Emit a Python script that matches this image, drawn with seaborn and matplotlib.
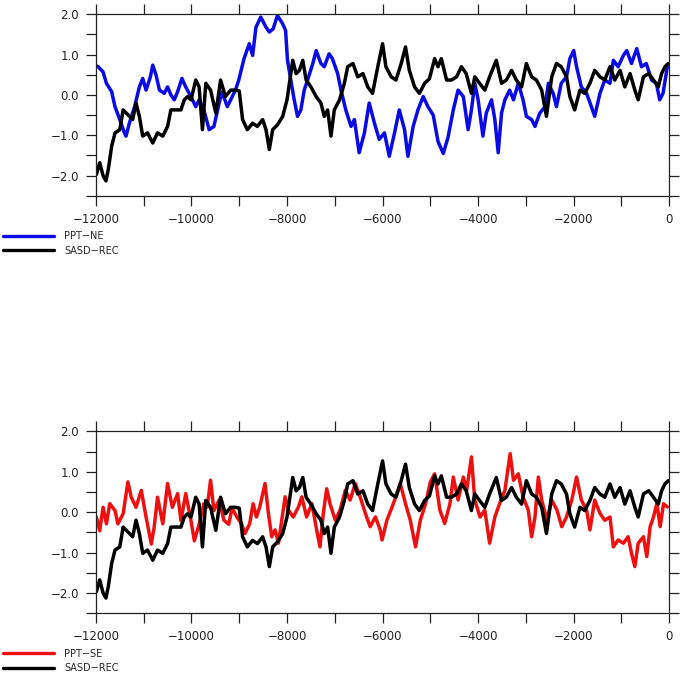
import numpy as np
import pandas as pd
import matplotlib
matplotlib.use("Agg")
import matplotlib.pyplot as plt
import seaborn as sns
from matplotlib.ticker import MultipleLocator

# years BP (negative) and standardised values
ne_years = [-11990, -11950, -11850, -11780, -11670, -11600, -11500, -11400, -11370, -11300,
            -11190, -11090, -11020, -10950, -10860, -10810, -10740, -10670, -10570, -10500,
            -10430, -10360, -10290, -10200, -10120, -10010, -9910, -9840, -9740, -9630,
            -9530, -9420, -9360, -9250, -9180, -9080, -9010, -8900, -8790, -8720,
            -8650, -8550, -8440, -8370, -8290, -8200, -8090, -8030, -7990, -7920,
            -7850, -7780, -7710, -7640, -7570, -7460, -7390, -7290, -7220, -7120,
            -7050, -6940, -6870, -6770, -6660, -6590, -6490, -6380, -6280, -6170,
            -6070, -5960, -5860, -5750, -5650, -5540, -5470, -5360, -5260, -5150,
            -5050, -4940, -4840, -4730, -4630, -4520, -4420, -4310, -4210, -4140,
            -4070, -4000, -3900, -3830, -3720, -3650, -3580, -3510, -3440, -3340,
            -3260, -3160, -3060, -2990, -2880, -2810, -2710, -2600, -2530, -2430,
            -2360, -2260, -2150, -2080, -2000, -1940, -1840, -1730, -1630, -1560,
            -1450, -1350, -1240, -1170, -1070, -960, -890, -790, -680, -580,
            -480, -370, -270, -200, -130, -40]
ppt_ne = [0.72, 0.70, 0.57, 0.29, 0.08, -0.29, -0.61, -0.95, -1.02, -0.70,
          -0.29, 0.20, 0.41, 0.12, 0.45, 0.74, 0.49, 0.12, 0.04, 0.20,
          0.00, -0.12, 0.08, 0.41, 0.20, -0.04, -0.29, -0.12, -0.37, -0.86,
          -0.78, -0.20, 0.08, -0.29, -0.12, 0.12, 0.37, 0.90, 1.27, 0.98,
          1.68, 1.93, 1.68, 1.56, 1.64, 1.97, 1.76, 1.60, 0.86, 0.37,
          -0.12, -0.53, -0.37, 0.12, 0.37, 0.78, 1.10, 0.78, 0.70, 1.02,
          0.90, 0.53, 0.12, -0.37, -0.78, -0.61, -1.43, -0.94, -0.20, -0.70,
          -1.10, -0.94, -1.52, -0.94, -0.37, -0.86, -1.52, -0.78, -0.37, -0.04,
          -0.29, -0.50, -1.15, -1.45, -1.05, -0.37, 0.12, -0.04, -0.86, -0.37,
          0.29, -0.12, -1.02, -0.45, -0.12, -0.61, -1.43, -0.45, -0.12, 0.12,
          -0.12, 0.29, -0.12, -0.53, -0.61, -0.78, -0.45, -0.29, 0.29, 0.04,
          -0.29, 0.29, 0.45, 0.90, 1.10, 0.70, 0.20, 0.04, -0.29, -0.53,
          0.04, 0.37, 0.29, 0.86, 0.70, 0.98, 1.10, 0.78, 1.15, 0.70,
          0.78, 0.37, 0.29, -0.12, 0.04, 0.70]

sasd_years = [-11990, -11920, -11850, -11790, -11740, -11670, -11600, -11500, -11430, -11330,
              -11230, -11160, -11090, -11020, -10920, -10810, -10710, -10600, -10500, -10430,
              -10330, -10220, -10150, -10080, -10010, -9910, -9840, -9770, -9700, -9600,
              -9490, -9390, -9290, -9180, -9080, -9000, -8930, -8830, -8720, -8620,
              -8510, -8440, -8370, -8300, -8200, -8090, -8000, -7950, -7880, -7810,
              -7740, -7670, -7600, -7500, -7390, -7290, -7220, -7150, -7080, -7010,
              -6900, -6800, -6730, -6620, -6520, -6410, -6310, -6210, -6100, -6000,
              -5930, -5820, -5720, -5610, -5520, -5440, -5330, -5230, -5120, -5020,
              -4910, -4840, -4770, -4660, -4560, -4450, -4350, -4250, -4140, -4070,
              -3970, -3860, -3760, -3620, -3510, -3410, -3300, -3200, -3090, -2990,
              -2880, -2780, -2670, -2570, -2460, -2360, -2260, -2150, -2080, -1980,
              -1870, -1770, -1660, -1560, -1450, -1350, -1240, -1140, -1030, -930,
              -820, -720, -650, -540, -430, -330, -230, -160, -90, -20]
sasd_rec = [-1.97, -1.68, -2.00, -2.13, -1.84, -1.27, -0.94, -0.86, -0.37, -0.49,
            -0.61, -0.20, -0.53, -1.02, -0.94, -1.19, -0.94, -1.02, -0.78, -0.37,
            -0.37, -0.37, -0.12, -0.04, -0.12, 0.37, 0.20, -0.86, 0.29, 0.12,
            -0.45, 0.37, -0.04, 0.12, 0.12, 0.10, -0.61, -0.86, -0.70, -0.78,
            -0.61, -0.86, -1.35, -0.86, -0.74, -0.53, -0.12, 0.29, 0.86, 0.53,
            0.61, 0.86, 0.37, 0.20, -0.04, -0.20, -0.53, -0.37, -1.02, -0.37,
            -0.12, 0.29, 0.70, 0.78, 0.45, 0.53, 0.20, 0.04, 0.70, 1.27,
            0.70, 0.45, 0.37, 0.78, 1.19, 0.61, 0.20, 0.04, 0.29, 0.40,
            0.90, 0.70, 0.90, 0.37, 0.37, 0.45, 0.70, 0.53, 0.04, 0.45,
            0.29, 0.12, 0.45, 0.86, 0.29, 0.37, 0.61, 0.37, 0.20, 0.78,
            0.45, 0.37, 0.12, -0.53, 0.45, 0.78, 0.70, 0.45, -0.04, -0.37,
            0.12, 0.04, 0.29, 0.61, 0.45, 0.37, 0.70, 0.37, 0.61, 0.20,
            0.53, 0.12, -0.12, 0.45, 0.53, 0.37, 0.20, 0.53, 0.70, 0.78]

se_years = [-11990, -11920, -11850, -11780, -11710, -11600, -11540, -11430, -11330, -11260,
            -11160, -11050, -10950, -10840, -10780, -10710, -10600, -10500, -10400, -10290,
            -10220, -10120, -10010, -9940, -9840, -9740, -9670, -9600, -9530, -9420,
            -9320, -9220, -9150, -9050, -8950, -8880, -8780, -8710, -8640, -8570,
            -8460, -8390, -8320, -8250, -8180, -8110, -8040, -7970, -7870, -7760,
            -7690, -7590, -7480, -7380, -7310, -7240, -7170, -7100, -6990, -6890,
            -6780, -6680, -6570, -6470, -6360, -6260, -6150, -6050, -6010, -5910,
            -5800, -5700, -5630, -5520, -5420, -5310, -5210, -5100, -5000, -4910,
            -4800, -4700, -4590, -4520, -4420, -4310, -4240, -4140, -4070, -3960,
            -3860, -3760, -3650, -3550, -3440, -3330, -3260, -3160, -3060, -2950,
            -2880, -2810, -2740, -2670, -2560, -2460, -2350, -2250, -2150, -2040,
            -1940, -1840, -1730, -1660, -1560, -1450, -1350, -1240, -1170, -1070,
            -960, -860, -790, -720, -650, -540, -470, -400, -330, -260,
            -190, -120, -40]
ppt_se = [-0.12, -0.46, 0.12, -0.29, 0.21, 0.04, -0.29, -0.04, 0.75, 0.37,
          0.12, 0.54, -0.12, -0.79, -0.37, 0.37, -0.29, 0.71, 0.12, 0.46,
          -0.21, 0.46, -0.21, -0.71, -0.30, 0.21, 0.12, 0.79, 0.04, 0.30,
          -0.20, -0.30, 0.10, -0.12, -0.29, -0.53, -0.28, 0.21, -0.12, 0.13,
          0.71, -0.03, -0.61, -0.44, -0.77, -0.20, 0.38, 0.05, -0.12, 0.13,
          0.38, -0.12, 0.21, -0.44, -0.86, -0.03, 0.58, 0.21, -0.20, 0.05,
          0.54, 0.30, 0.71, 0.38, -0.03, -0.36, -0.12, -0.44, -0.69, -0.20,
          0.13, 0.46, 0.71, 0.21, -0.20, -0.86, -0.20, 0.21, 0.75, 0.95,
          0.05, -0.28, 0.21, 0.87, 0.30, 0.87, 0.54, 1.37, 0.30, -0.12,
          0.05, -0.77, -0.12, 0.21, 0.54, 1.45, 0.79, 0.95, 0.38, 0.05,
          -0.61, -0.12, 0.87, 0.30, -0.20, 0.30, 0.05, -0.36, -0.12, 0.30,
          0.87, 0.30, 0.05, -0.44, 0.30, -0.03, -0.20, -0.12, -0.86, -0.69,
          -0.77, -0.61, -1.02, -1.35, -0.77, -0.61, -1.10, -0.36, -0.12, 0.21,
          -0.36, 0.21, 0.13]

xticks = [-12000, -10000, -8000, -6000, -4000, -2000, 0]
xticklabels = ["\u221212000", "\u221210000", "\u22128000", "\u22126000",
               "\u22124000", "\u22122000", "0"]
yticks = [-2.0, -1.0, 0.0, 1.0, 2.0]
yticklabels = ["\u22122.0", "\u22121.0", "0.0", "1.0", "2.0"]

sns.set_style("ticks")
plt.rcParams['font.family'] = ['DejaVu Sans']

fig = plt.figure(figsize=(6.85, 6.8), dpi=100)
ax1 = fig.add_axes([0.140, 0.712, 0.837, 0.267])
ax2 = fig.add_axes([0.140, 0.0985, 0.837, 0.267])

ne = pd.DataFrame({'year': ne_years, 'value': ppt_ne})
se = pd.DataFrame({'year': se_years, 'value': ppt_se})
sasd = pd.DataFrame({'year': sasd_years, 'value': sasd_rec})

panels = [(ax1, ne, '#0a0ae6', 'PPT\u2212NE', 0.660),
          (ax2, se, '#ee1010', 'PPT\u2212SE', 0.046)]

for ax, df, col, name, leg_y in panels:
    sns.lineplot(data=df, x='year', y='value', ax=ax, color=col, lw=2.5,
                 errorbar=None, label=name)
    sns.lineplot(data=sasd, x='year', y='value', ax=ax, color='black', lw=2.5,
                 errorbar=None, label='SASD\u2212REC')
    ax.set_xlim(-12000, 0)
    ax.set_ylim(-2.5, 2.0)
    ax.set_xticks(xticks)
    ax.set_xticklabels(xticklabels)
    ax.set_yticks(yticks)
    ax.set_yticklabels(yticklabels)
    ax.xaxis.set_minor_locator(MultipleLocator(1000))
    ax.yaxis.set_minor_locator(MultipleLocator(0.5))
    ax.tick_params(which='both', direction='out', top=True, right=True,
                   length=7, width=0.9, color='#222222')
    ax.tick_params(which='major', labelsize=8.5, pad=5, labelcolor='#222222')
    ax.set_xlabel('')
    ax.set_ylabel('')
    for s in ax.spines.values():
        s.set_linewidth(0.9)
        s.set_color('#222222')
    leg = ax.legend(loc='upper left', bbox_to_anchor=(0.004, leg_y),
                    bbox_transform=fig.transFigure, frameon=False, fontsize=7,
                    handlelength=5.3, handletextpad=1.0, labelspacing=0.45,
                    borderpad=0, borderaxespad=0)
    for h in leg.get_lines():
        h.set_linewidth(2.4)

fig.savefig("out.png", dpi=100)
